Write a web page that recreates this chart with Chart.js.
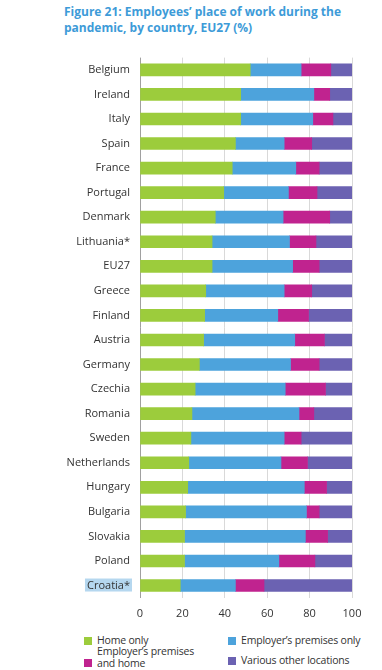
<!DOCTYPE html>
<html>
<head>
<meta charset="utf-8">
<script src="https://cdn.jsdelivr.net/npm/chart.js@4"></script>
<style>
  body { margin: 0; width: 382px; height: 670px; background: #fff; font-family: "Open Sans", sans-serif; position: relative; overflow: hidden; }
  #title { position: absolute; left: 64px; top: 4px; color: #3d9bd8; font-weight: bold; font-size: 12px; line-height: 16px; }
  #wrap { position: absolute; left: 0; top: 41px; width: 382px; height: 588px; }
  #legend { position: absolute; left: 84px; top: 635px; width: 290px; font-size: 10.5px; letter-spacing: -0.2px; color: #333; }
  .item { position: absolute; display: flex; align-items: center; line-height: 11px; }
  .item.two { align-items: flex-end; line-height: 12px; }
  .item.two .sw { margin-bottom: 2px; }
  .sw { width: 8px; height: 8px; margin-right: 5px; flex: none; }
</style>
</head>
<body>
<div id="title">Figure 21: Employees’ place of work during the<br>pandemic, by country, EU27 (%)</div>
<div id="wrap"><canvas id="myChart"></canvas></div>
<div id="legend"></div>
<script>
var countries = ['Belgium', 'Ireland', 'Italy', 'Spain', 'France', 'Portugal', 'Denmark', 'Lithuania*', 'EU27', 'Greece',
    'Finland', 'Austria', 'Germany', 'Czechia', 'Romania', 'Sweden', 'Netherlands', 'Hungary', 'Bulgaria', 'Slovakia', 'Poland', 'Croatia*'];
var homeOnly =        [52, 47.5, 47.5, 45, 43.5, 39.5, 35.5, 34, 34, 31, 30.5, 30, 28, 26, 24.5, 24, 23, 22.5, 21.5, 21, 21, 19];
var premisesOnly =    [24, 34.5, 34, 23, 30, 30.5, 32, 36.5, 38, 37, 34.5, 43, 43, 42.5, 50.5, 44, 43.5, 55, 57, 57, 44.5, 26];
var premisesAndHome = [14, 7.5, 9.5, 13, 11, 13.5, 22, 12.5, 12.5, 13, 14.5, 14, 13.5, 19, 7, 8, 12.5, 10.5, 6, 10.5, 17, 13.5];
var otherLocations =  [10, 10.5, 9, 19, 15.5, 16.5, 10.5, 17, 15.5, 19, 20.5, 13, 15.5, 12.5, 18, 24, 21, 12, 15.5, 11.5, 17.5, 41.5];
var xTicks = [0, 20, 40, 60, 80, 100];

var seriesNames = ["Home only", "Employer’s premises only", "Employer’s premises\nand home", "Various other locations"];
var seriesColors = ['#9ccc3c', '#4da3dc', '#c0238f', '#6b62b2'];

// Croatia label gets a light blue highlight behind it
var highlightLabel = {
    id: 'highlightLabel',
    beforeDraw: function (chart) {
        var y = chart.scales.y;
        var idx = countries.indexOf('Croatia*');
        var py = y.getPixelForTick(idx);
        var ctx = chart.ctx;
        ctx.save();
        ctx.font = '11px "Open Sans"';
        var w = ctx.measureText(countries[idx]).width;
        ctx.fillStyle = '#b5d7ef';
        ctx.fillRect(y.right - 10 - w - 2, py - 7, w + 4, 13);
        ctx.restore();
    }
};

var ctx = document.getElementById('myChart').getContext('2d');
var myChart = new Chart(ctx, {
    type: 'bar',
    data: {
        labels: countries,
        datasets: [homeOnly, premisesOnly, premisesAndHome, otherLocations].map(function (d, i) {
            return {
                label: seriesNames[i],
                data: d,
                backgroundColor: seriesColors[i],
                barThickness: 12
            };
        })
    },
    options: {
        indexAxis: 'y',
        responsive: true,
        maintainAspectRatio: false,
        animation: false,
        layout: { padding: { top: 6, right: 30, left: 0, bottom: 0 } },
        plugins: {
            legend: { display: false },
            tooltip: { enabled: false }
        },
        scales: {
            x: {
                stacked: true,
                min: 0,
                max: 100,
                afterBuildTicks: function (axis) {
                    axis.ticks = xTicks.map(function (v) { return { value: v }; });
                },
                grid: {
                    color: function (c) { return c.tick && c.tick.value === 0 ? '#a0a0a0' : '#d9d9d9'; },
                    tickLength: 0,
                    drawTicks: true
                },
                border: { display: false },
                ticks: { color: '#333', font: { family: 'Open Sans', size: 11 }, padding: 9 }
            },
            y: {
                stacked: true,
                afterFit: function (axis) { axis.width = 140; },
                grid: { display: false, drawTicks: false },
                border: { display: false },
                ticks: { color: '#333', font: { family: 'Open Sans', size: 11 }, padding: 10 }
            }
        }
    },
    plugins: [highlightLabel]
});

// legend in two columns, as in the figure
var pos = [[0, 0], [144, 0], [0, 20], [144, 20]];
var legend = document.getElementById('legend');
seriesNames.forEach(function (name, i) {
    var two = name.indexOf('\n') >= 0;
    var el = document.createElement('div');
    el.className = two ? 'item two' : 'item';
    el.style.left = pos[i][0] + 'px';
    el.style.top = (pos[i][1] + (two ? -10 : 0)) + 'px';
    el.innerHTML = '<span class="sw" style="background:' + seriesColors[i] + '"></span><span>' + name.replace('\n', '<br>') + '</span>';
    legend.appendChild(el);
});
</script>
</body>
</html>
